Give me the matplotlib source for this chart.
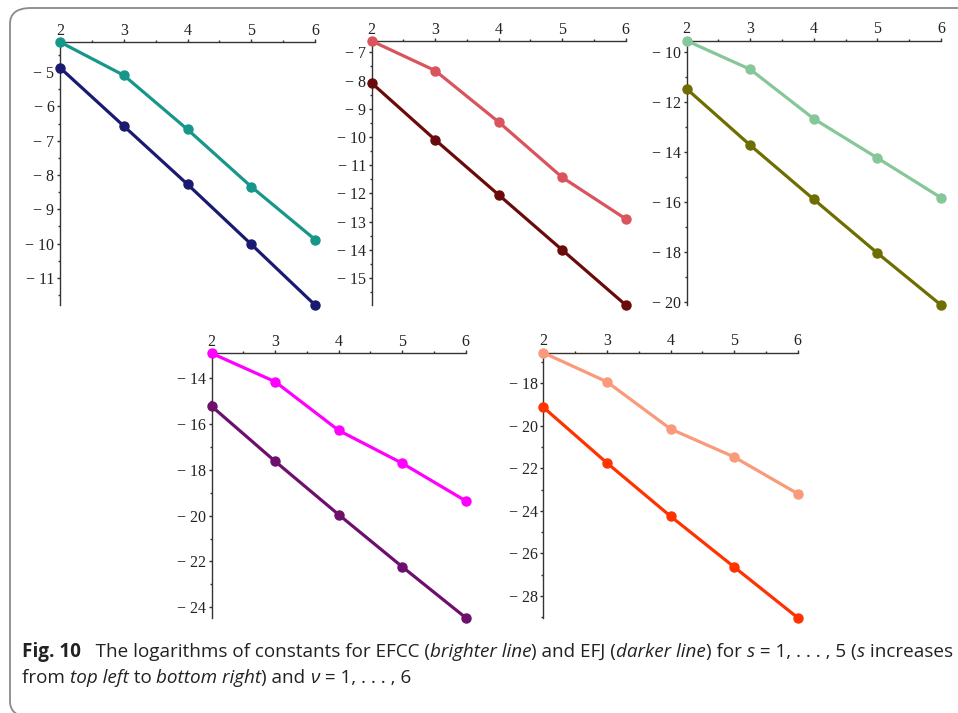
import matplotlib
matplotlib.use("Agg")
import matplotlib.pyplot as plt
from matplotlib.patches import FancyBboxPatch
from matplotlib.ticker import MultipleLocator, FuncFormatter

# ---------------- data ----------------
nu = [2, 3, 4, 5, 6]

efcc_s1 = [-4.12, -5.09, -6.67, -8.34, -9.88]
efj_s1 = [-4.87, -6.57, -8.27, -10.02, -11.79]

efcc_s2 = [-6.60, -7.65, -9.47, -11.43, -12.90]
efj_s2 = [-8.09, -10.10, -12.05, -14.00, -15.95]

efcc_s3 = [-9.55, -10.70, -12.68, -14.25, -15.84]
efj_s3 = [-11.48, -13.74, -15.91, -18.06, -20.14]

efcc_s4 = [-12.93, -14.17, -16.29, -17.72, -19.36]
efj_s4 = [-15.24, -17.64, -19.96, -22.23, -24.45]

efcc_s5 = [-16.55, -17.92, -20.14, -21.46, -23.19]
efj_s5 = [-19.12, -21.74, -24.25, -26.64, -29.03]

bright_colors = ["#17968a", "#d9545c", "#86c79a", "#ff00ff", "#f99a7a"]
dark_colors = ["#1a1a70", "#6b0a0a", "#6e6e00", "#6e0f6e", "#ff3300"]

y_major = [1, 1, 2, 2, 2]
y_minor = [0.5, 0.5, 1, 1, 1]

W, H = 958, 713
boxes = [
    (60, 315, 42, 305),
    (371.7, 625.7, 41, 305),
    (686.7, 941, 40.7, 305),
    (211.7, 465.7, 353.3, 617.7),
    (543.3, 797.7, 352.7, 617.7),
]

series = [(efcc_s1, efj_s1), (efcc_s2, efj_s2), (efcc_s3, efj_s3),
          (efcc_s4, efj_s4), (efcc_s5, efj_s5)]

fig = plt.figure(figsize=(W / 100, H / 100), dpi=100)
fig.patch.set_facecolor("white")

frame = FancyBboxPatch((10 / W, (H - 717) / H), (1010 - 10) / W, (717 - 8) / H,
                       boxstyle="round,pad=0,rounding_size=0.022",
                       transform=fig.transFigure, fill=False,
                       edgecolor="#8a8a8a", linewidth=1.3, clip_on=False)
fig.patches.append(frame)

serif = "Liberation Serif"


def ylab(v, pos):
    if v < 0:
        return "\u2212 %g" % (-v)
    return "%g" % v


for i, ((x0, x1, yt, yb), (br, dk)) in enumerate(zip(boxes, series)):
    ax = fig.add_axes([x0 / W, 1 - yb / H, (x1 - x0) / W, (yb - yt) / H])
    ax.set_facecolor("none")
    ax.plot(nu, dk, color=dark_colors[i], lw=2.3, marker="o", ms=6.5,
            clip_on=False, zorder=3)
    ax.plot(nu, br, color=bright_colors[i], lw=2.3, marker="o", ms=6.5,
            clip_on=False, zorder=3)
    ymin = min(min(br), min(dk))
    ymax = max(max(br), max(dk))
    ax.set_xlim(2, 6)
    ax.set_ylim(ymin, ymax)
    for s in ["right", "bottom"]:
        ax.spines[s].set_visible(False)
    for s in ["top", "left"]:
        ax.spines[s].set_color("#333333")
        ax.spines[s].set_linewidth(1.0)
    ax.xaxis.tick_top()
    ax.xaxis.set_major_locator(MultipleLocator(1))
    ax.xaxis.set_minor_locator(MultipleLocator(0.5))
    ax.yaxis.set_major_locator(MultipleLocator(y_major[i]))
    ax.yaxis.set_minor_locator(MultipleLocator(y_minor[i]))
    ax.yaxis.set_major_formatter(FuncFormatter(ylab))
    ax.xaxis.set_major_formatter(FuncFormatter(lambda v, p: "%d" % v))
    ax.tick_params(axis="both", which="major", direction="out", length=2.5,
                   width=1, color="#333333", labelsize=11.5)
    ax.tick_params(axis="x", which="major", pad=0)
    ax.tick_params(axis="y", which="major", pad=1.5)
    ax.tick_params(axis="both", which="minor", direction="out", length=1.5,
                   width=1, color="#333333")
    for lab in ax.get_xticklabels() + ax.get_yticklabels():
        lab.set_fontfamily(serif)
        lab.set_color("#222222")

# caption
renderer = fig.canvas.get_renderer()
cap_font = ["Open Sans", "DejaVu Sans"]

line1 = [
    ("Fig. 10", "normal", "bold"),
    ("   The logarithms of constants for EFCC (", "normal", "normal"),
    ("brighter line", "italic", "normal"),
    (") and EFJ (", "normal", "normal"),
    ("darker line", "italic", "normal"),
    (") for ", "normal", "normal"),
    ("s", "italic", "normal"),
    (" = 1, . . . , 5 (", "normal", "normal"),
    ("s", "italic", "normal"),
    (" increases", "normal", "normal"),
]
line2 = [
    ("from ", "normal", "normal"),
    ("top left", "italic", "normal"),
    (" to ", "normal", "normal"),
    ("bottom right", "italic", "normal"),
    (") and ", "normal", "normal"),
    ("\u03bd", "italic", "normal"),
    (" = 1, . . . , 6", "normal", "normal"),
]


def run_text(x_px, y_px, runs, size, draw=True):
    x = x_px
    for txt, style, weight in runs:
        t = fig.text(x / W, 1 - y_px / H, txt, fontsize=size,
                     family=cap_font, style=style, weight=weight,
                     color="#222222", va="baseline", ha="left")
        bb = t.get_window_extent(renderer=renderer)
        x += bb.width
        if not draw:
            t.remove()
    return x


base = 10.0
w_nat = run_text(22, 657, line1, base, draw=False) - 22
cap_size = base * (955 - 22) / w_nat

run_text(22, 657, line1, cap_size)
run_text(22, 683, line2, cap_size)

fig.savefig("out.png", dpi=100, facecolor="white")
